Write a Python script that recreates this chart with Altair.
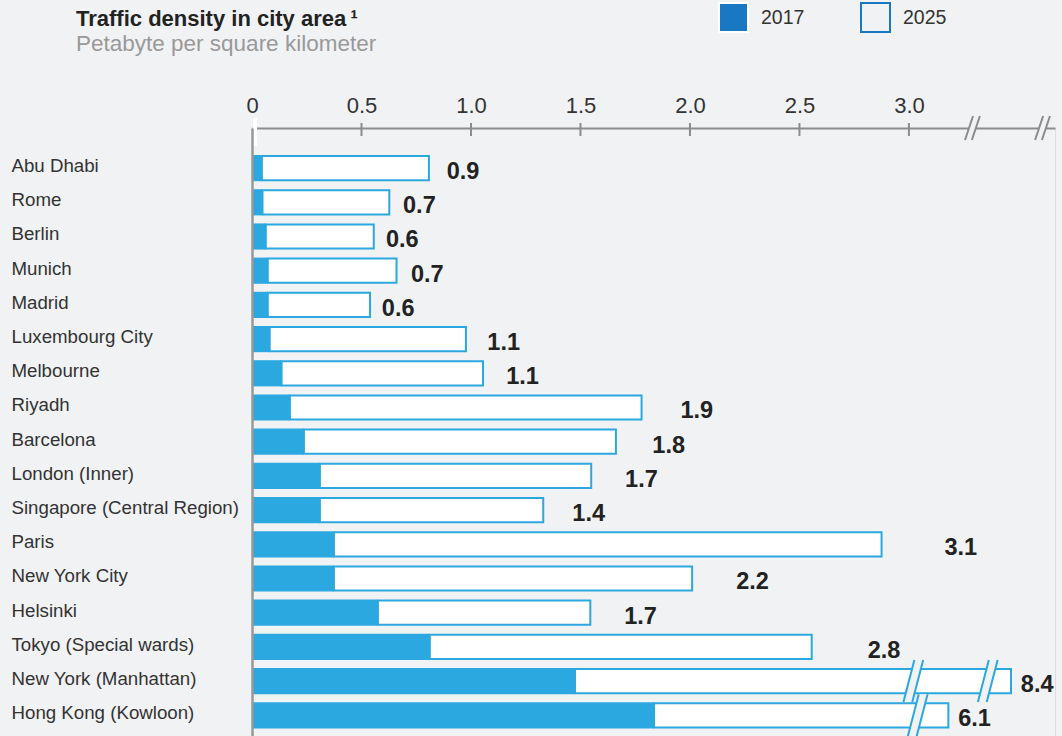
import altair as alt
import pandas as pd

# ---------------- data ----------------
cities = ["Abu Dhabi", "Rome", "Berlin", "Munich", "Madrid", "Luxembourg City",
          "Melbourne", "Riyadh", "Barcelona", "London (Inner)",
          "Singapore (Central Region)", "Paris", "New York City", "Helsinki",
          "Tokyo (Special wards)", "New York (Manhattan)", "Hong Kong (Kowloon)"]
v2017 = [0.045, 0.048, 0.063, 0.072, 0.072, 0.081, 0.135, 0.173, 0.237, 0.31,
         0.31, 0.374, 0.374, 0.575, 0.812, 1.475, 1.836]
v2025 = [0.808, 0.627, 0.556, 0.66, 0.539, 0.977, 1.055, 1.779, 1.662, 1.549,
         1.33, 2.875, 2.01, 1.545, 2.556, 3.466, 3.18]
labels = ["0.9", "0.7", "0.6", "0.7", "0.6", "1.1", "1.1", "1.9", "1.8", "1.7",
          "1.4", "3.1", "2.2", "1.7", "2.8", "8.4", "6.1"]
years = ["2017", "2025"]
tick_values = [0, 0.5, 1.0, 1.5, 2.0, 2.5, 3.0]
x_max = 3.667
axis_breaks = [3.29, 3.61]
bar_break_cities = ["New York (Manhattan)", "New York (Manhattan)", "Hong Kong (Kowloon)"]
bar_break_at = [3.02, 3.36, 3.04]

# ---------------- styles ----------------
BG = "#f1f2f4"
BAR = "#2ca8e0"
LEG = "#1a78c2"
AXIS = "#8c8c8c"
TXT = "#222222"
FONT = "Liberation Sans"

df = pd.DataFrame({"city": cities, "v2017": v2017, "v2025": v2025, "label": labels})
df["broken"] = df["label"].astype(float) > x_max
df["label_x"] = [v + 0.045 if b else v * 1.1 for v, b in zip(df["v2025"], df["broken"])]

ticks_df = pd.DataFrame({"t": tick_values})
axis_break_df = pd.DataFrame({"b": axis_breaks})
bar_break_df = pd.DataFrame({"city": bar_break_cities, "b": bar_break_at})
legend_df = pd.DataFrame({"year": years})

xscale = alt.Scale(domain=[0, x_max], nice=False, zero=True)
yscale = alt.Scale(domain=cities, paddingInner=0.234, paddingOuter=0.506, align=0.78)

x_axis = alt.Axis(orient="top", values=tick_values, ticks=False, tickSize=0,
                  labelExpr="datum.value == 0 ? '0' : format(datum.value, '.1f')",
                  labelFontSize=22, labelColor="#333333", labelFont=FONT,
                  labelBaseline="alphabetic", labelPadding=16, labelFlush=False,
                  domainColor=AXIS, domainWidth=2, grid=False, title=None, zindex=0)
y_axis = alt.Axis(orient="left", ticks=False, tickSize=0, labelAlign="left",
                  labelPadding=241, labelFontSize=18.7, labelColor="#333333",
                  labelFont=FONT, labelBaseline="middle", labelLimit=400,
                  labelOffset=-2,
                  domainColor="#999999", domainWidth=2.5, grid=False, title=None,
                  zindex=1)

X = lambda f: alt.X(f, scale=xscale, axis=x_axis, stack=None)
Y = alt.Y("city:N", scale=yscale, axis=y_axis)

tick_rules = alt.Chart(ticks_df).transform_filter("datum.t > 0").mark_rule(
    color=AXIS, strokeWidth=2).encode(
    x=X("t:Q"), y=alt.value(-5), y2=alt.value(8))

zero_tick = alt.Chart(ticks_df).transform_filter("datum.t == 0").mark_rule(
    color="white", strokeWidth=4, xOffset=3).encode(
    x=X("t:Q"), y=alt.value(-10), y2=alt.value(18))

bars17 = alt.Chart(df).mark_bar(color=BAR).encode(x=X("v2017:Q"), y=Y)

bars25 = alt.Chart(df).mark_bar(fill="white", stroke=BAR, strokeWidth=2,
                                height=alt.RelativeBandSize(0.923)).encode(
    x=X("v2017:Q"), x2="v2025:Q", y=Y)

bb_fill_path = "M -0.47 1 L 0.05 -1 L 0.47 -1 L -0.05 1 Z"
bb_line_path = "M -0.47 1 L 0.05 -1 M -0.05 1 L 0.47 -1"
bar_break_fill = alt.Chart(bar_break_df).mark_point(
    shape=bb_fill_path, filled=True, color=BG, size=1764, opacity=1, strokeWidth=0).encode(
    x=X("b:Q"), y=Y)
bar_break_lines = alt.Chart(bar_break_df).mark_point(
    shape=bb_line_path, filled=False, color=BAR, size=1764, opacity=1, strokeWidth=2).encode(
    x=X("b:Q"), y=Y)

ab_fill_path = "M -0.62 1 L 0.05 -1 L 0.62 -1 L -0.05 1 Z"
ab_line_path = "M -0.62 1 L 0.05 -1 M -0.05 1 L 0.62 -1"
axis_break_fill = alt.Chart(axis_break_df).mark_point(
    shape=ab_fill_path, filled=True, color=BG, size=576, opacity=1, strokeWidth=0).encode(
    x=X("b:Q"), y=alt.value(0))
axis_break_lines = alt.Chart(axis_break_df).mark_point(
    shape=ab_line_path, filled=False, color=AXIS, size=576, opacity=1, strokeWidth=2).encode(
    x=X("b:Q"), y=alt.value(0))

value_text = alt.Chart(df).mark_text(
    align="left", baseline="middle", dy=4, fontSize=23.5, fontWeight="bold",
    font=FONT, color=TXT).encode(x=X("label_x:Q"), y=Y, text="label:N")

leg = alt.Legend(orient="none", legendX=466, legendY=-126, direction="horizontal",
                 title=None, symbolType="square", symbolSize=841, symbolStrokeWidth=2,
                 symbolOpacity=1, labelFontSize=19.5, labelFont=FONT,
                 labelColor="#333333", labelOffset=12, columnPadding=52, padding=0)
legend_layer = alt.Chart(legend_df).transform_filter("false").mark_square(
    filled=True, opacity=1).encode(
    fill=alt.Fill("year:N", scale=alt.Scale(domain=years, range=[LEG, BG]), legend=leg),
    stroke=alt.Stroke("year:N", scale=alt.Scale(domain=years, range=["white", LEG]), legend=leg))

chart = alt.layer(
    tick_rules, zero_tick, bars17, bars25, bar_break_fill, bar_break_lines,
    axis_break_fill, axis_break_lines, value_text, legend_layer
).properties(
    width=803, height=608,
    autosize=alt.AutoSizeParams(type="none"),
    padding={"left": 252, "top": 128, "right": 7, "bottom": 0},
    background=BG,
    title=alt.TitleParams(
        text="Traffic density in city area\u2009\u00b9",
        subtitle="Petabyte per square kilometer",
        anchor="start", frame="group", dx=-176, offset=38, dy=92,
        font=FONT, fontSize=22, fontWeight="bold", color=TXT,
        subtitleFont=FONT, subtitleFontSize=22.5, subtitleColor="#999999",
        subtitlePadding=2),
).configure_view(stroke=None).configure(font=FONT)

chart.save("out.html", embed_options={"renderer": "svg", "actions": False})
